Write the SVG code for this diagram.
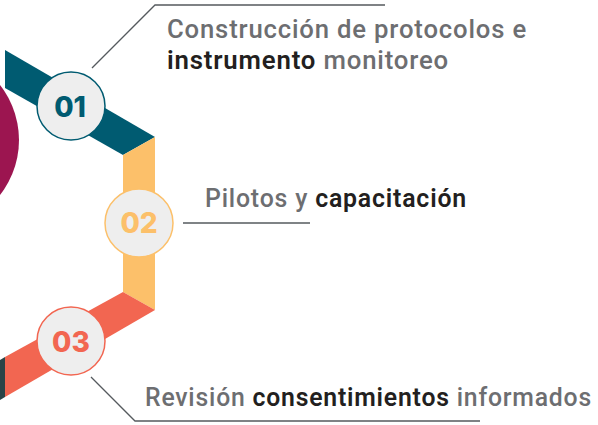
<svg xmlns="http://www.w3.org/2000/svg" width="598" height="425" viewBox="0 0 598 425">
<style>
.lead{fill:none;stroke:#555a5e;stroke-width:1.3}
.num{fill:#eeeeee;stroke-width:1.5}
.numt{font-family:Inter,"Open Sans",sans-serif;font-weight:800;font-size:28px;text-anchor:middle}
.lbl{font-family:Roboto,"Liberation Sans",sans-serif;font-weight:500;font-size:25px;fill:#6d6e71;letter-spacing:0.8px}
.b{fill:#231f20;font-weight:600}
</style>
<rect width="598" height="425" fill="#ffffff"/>
<g id="bands">
<circle id="magenta" cx="-70" cy="140" r="89" fill="#9c1550"/>
<polygon points="5,50 155,137 123,155 5,88" fill="#005b71"/>
<polygon points="123,155 155,137 155,310 123,292" fill="#fcc06a"/>
<polygon points="123,292 155,310 5,397 5,357" fill="#f26651"/>
<polygon points="0,360 5,357 5,397 0,400" fill="#2b4447"/>
</g>
<g id="connectors">
<polyline class="lead" points="92,68 155,5 385,5"/>
<polyline class="lead" points="183,223 310,223"/>
<polyline class="lead" points="91,377 135,421 480,421"/>
</g>
<g id="node1">
<circle class="num" cx="71" cy="106" r="34" stroke="#005b71"/>
<text class="numt" x="70" y="117" fill="#005b71">01</text>
</g>
<g id="node2">
<circle class="num" cx="139" cy="223" r="34" stroke="#fcc06a"/>
<text class="numt" x="139" y="233" fill="#fcc06a">02</text>
</g>
<g id="node3">
<circle class="num" cx="71" cy="341" r="34" stroke="#f26651"/>
<text class="numt" x="71" y="352" fill="#f26651">03</text>
</g>
<g id="label1">
<text class="lbl" x="167" y="38" textLength="360" lengthAdjust="spacingAndGlyphs">Construcción de protocolos e</text>
<text class="lbl" x="167" y="69" textLength="282" lengthAdjust="spacingAndGlyphs"><tspan class="b">instrumento</tspan> monitoreo</text>
</g>
<g id="label2">
<text class="lbl" x="205" y="207" textLength="262" lengthAdjust="spacingAndGlyphs">Pilotos y <tspan class="b">capacitación</tspan></text>
</g>
<g id="label3">
<text class="lbl" x="145" y="406" textLength="447" lengthAdjust="spacingAndGlyphs">Revisión <tspan class="b">consentimientos</tspan> informados</text>
</g>
</svg>
